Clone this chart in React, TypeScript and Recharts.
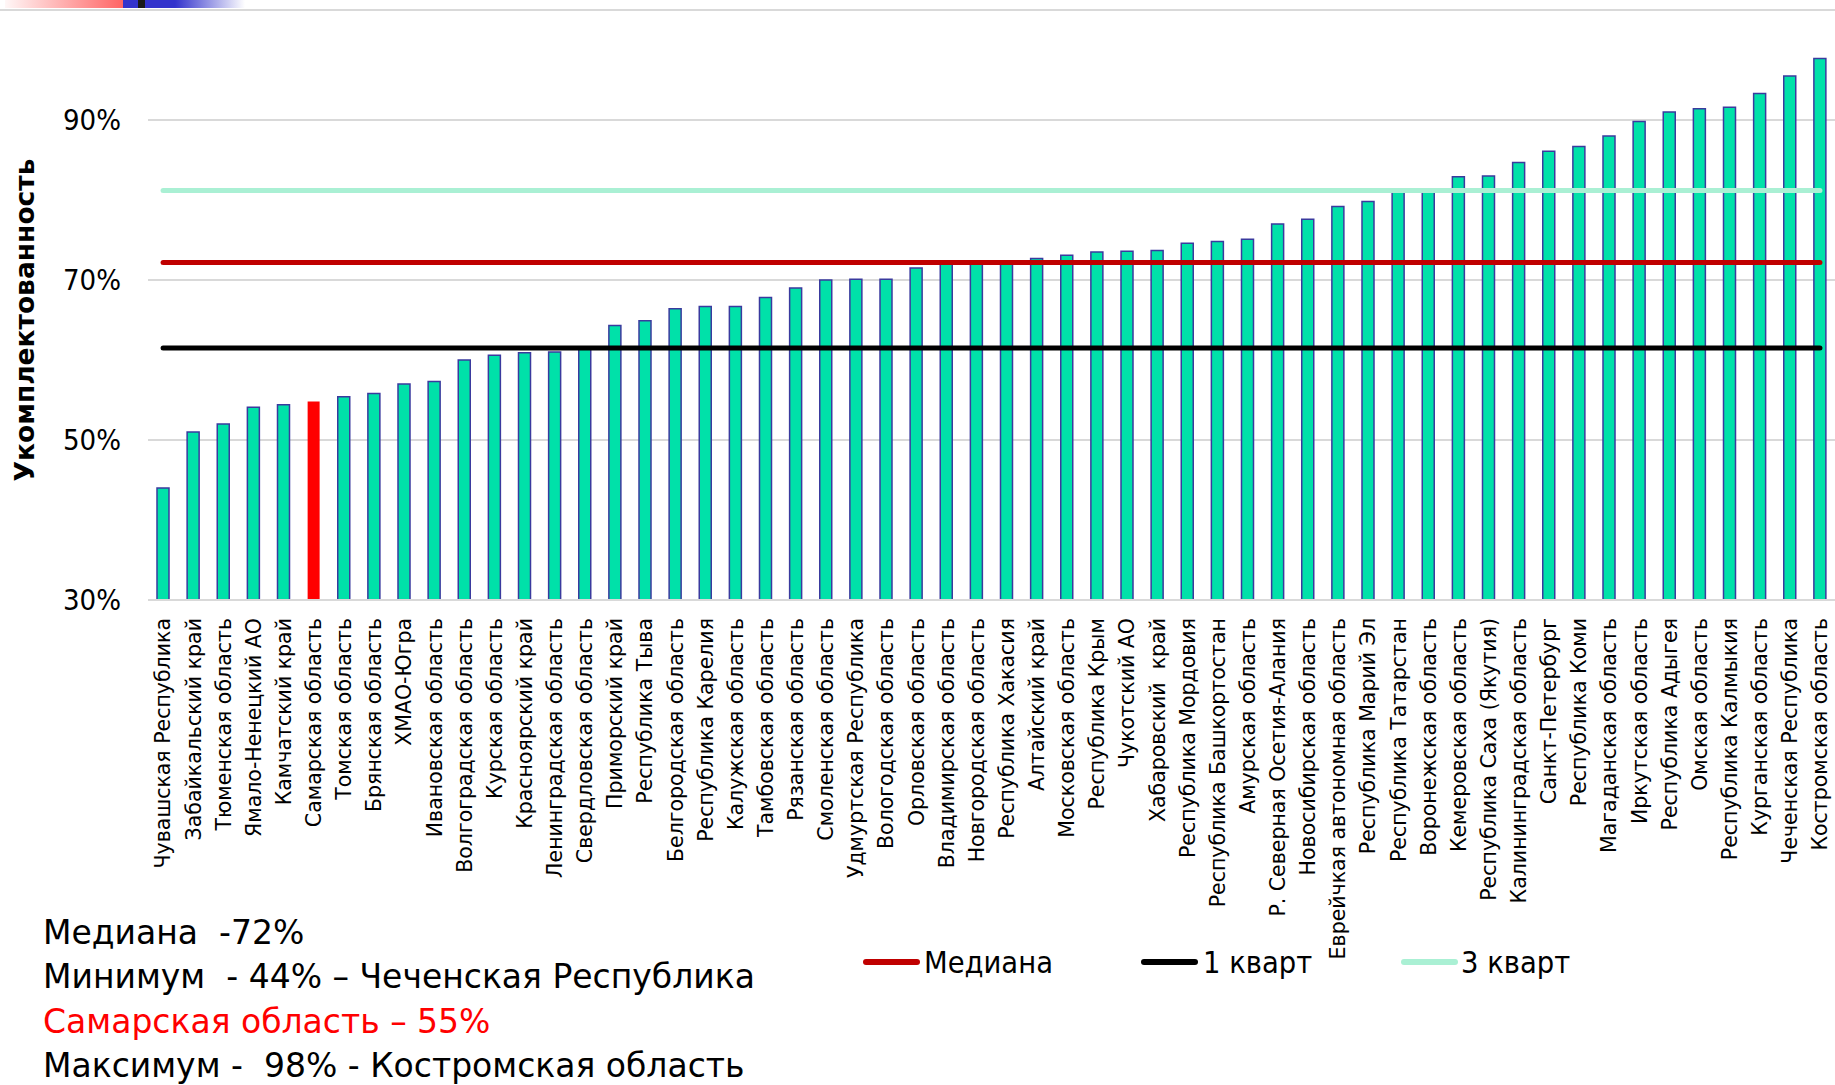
import React from 'react';
import { ComposedChart, Bar, Line, XAxis, YAxis, CartesianGrid, Cell, Label } from 'recharts';

const categories = [
  'Чувашская Республика', 'Забайкальский край', 'Тюменская область', 'Ямало-Ненецкий АО', 'Камчатский край',
  'Самарская область', 'Томская область', 'Брянская область', 'ХМАО-Югра', 'Ивановская область',
  'Волгоградская область', 'Курская область', 'Красноярский край', 'Ленинградская область', 'Свердловская область',
  'Приморский край', 'Республика Тыва', 'Белгородская область', 'Республика Карелия', 'Калужская область',
  'Тамбовская область', 'Рязанская область', 'Смоленская область', 'Удмуртская Республика', 'Вологодская область',
  'Орловская область', 'Владимирская область', 'Новгородская область', 'Республика Хакасия', 'Алтайский край',
  'Московская область', 'Республика Крым', 'Чукотский АО', 'Хабаровский  край', 'Республика Мордовия',
  'Республика Башкортостан', 'Амурская область', 'Р. Северная Осетия-Алания', 'Новосибирская область', 'Еврейчкая автономная область',
  'Республика Марий Эл', 'Республика Татарстан', 'Воронежская область', 'Кемеровская область', 'Республика Саха (Якутия)',
  'Калининградская область', 'Санкт-Петербург', 'Республика Коми', 'Магаданская область', 'Иркутская область',
  'Республика Адыгея', 'Омская область', 'Республика Калмыкия', 'Курганская область', 'Чеченская Республика',
  'Костромская область',
];

const values = [
  44.0, 51.0, 52.0, 54.1, 54.4, 54.8, 55.4, 55.8, 57.0, 57.3,
  60.0, 60.6, 60.9, 61.0, 61.4, 64.3, 64.9, 66.4, 66.7, 66.7,
  67.8, 69.0, 70.0, 70.1, 70.1, 71.5, 72.1, 72.1, 72.2, 72.7,
  73.1, 73.5, 73.6, 73.7, 74.6, 74.8, 75.1, 77.0, 77.6, 79.2,
  79.8, 81.1, 81.2, 82.9, 83.0, 84.7, 86.1, 86.7, 88.0, 89.8,
  91.0, 91.4, 91.6, 93.3, 95.5, 97.7,
];

const highlightCategory = 'Самарская область';

const MEDIAN = 72.2;
const QUART1 = 61.5;
const QUART3 = 81.2;

const yTicks = [30, 50, 70, 90];

const lineSeries = [
  { key: 'median', name: 'Медиана', color: '#c00000' },
  { key: 'q1', name: '1 кварт', color: '#000000' },
  { key: 'q3', name: '3 кварт', color: '#aaf0d4' },
];

const statLines = [
  { text: 'Медиана  -72%', color: '#000000' },
  { text: 'Минимум  - 44% – Чеченская Республика', color: '#000000' },
  { text: 'Самарская область – 55%', color: '#ff0000' },
  { text: 'Максимум -  98% - Костромская область', color: '#000000' },
];

const data = categories.map((name, i) => ({
  name,
  value: values[i],
  median: MEDIAN,
  q1: QUART1,
  q3: QUART3,
}));

const COND = "'DejaVu Sans Condensed', 'DejaVu Sans', sans-serif";
const SANS = "'DejaVu Sans', sans-serif";

const XTick = (props: any) => {
  const { x, y, payload } = props;
  return (
    <text
      x={x}
      y={y}
      transform={`rotate(-90, ${x}, ${y})`}
      textAnchor="end"
      dy="0.36em"
      fontSize={20.5}
      fill="#000"
      style={{ fontFamily: SANS, whiteSpace: 'pre' }}
    >
      {payload.value}
    </text>
  );
};

const YTick = (props: any) => {
  const { x, y, payload } = props;
  return (
    <text
      x={x}
      y={y}
      textAnchor="end"
      dy="0.36em"
      fontSize={29}
      fill="#000"
      style={{ fontFamily: COND, fontStretch: 'condensed' }}
    >
      {`${payload.value}%`}
    </text>
  );
};

const YTitle = (props: any) => {
  const vb = props.viewBox || { x: 0, y: 40, width: 148, height: 560 };
  const cx = 24;
  const cy = vb.y + vb.height / 2;
  return (
    <text
      x={cx}
      y={cy}
      transform={`rotate(-90, ${cx}, ${cy})`}
      textAnchor="middle"
      dy="0.36em"
      fontSize={26.5}
      fontWeight="bold"
      fill="#000"
      style={{ fontFamily: SANS }}
    >
      Укомплектованность
    </text>
  );
};

const legendPos = [
  { lineX: 866, textX: 924 },
  { lineX: 1144, textX: 1203 },
  { lineX: 1404, textX: 1461 },
];

export default function App() {
  return (
    <div style={{ position: 'absolute', left: 0, top: 0, width: 1835, height: 1085, background: '#fff', overflow: 'hidden' }}>
      {/* header decoration */}
      <div style={{ position: 'absolute', left: 5, top: 0, width: 118, height: 8, background: 'linear-gradient(to right, rgba(255,100,100,0.05), #ff6464)' }} />
      <div style={{ position: 'absolute', left: 123, top: 0, width: 15, height: 8, background: '#3333cc' }} />
      <div style={{ position: 'absolute', left: 138, top: 0, width: 7, height: 8, background: '#1a1a1a' }} />
      <div style={{ position: 'absolute', left: 145, top: 0, width: 100, height: 8, background: 'linear-gradient(to right, #3333cc 0%, #3333cc 30%, rgba(51,51,204,0) 100%)' }} />
      <div style={{ position: 'absolute', left: 0, top: 9, width: 1835, height: 2, background: '#d9d9d9' }} />

      <div style={{ position: 'absolute', left: 0, top: 0 }}>
        <ComposedChart width={1835} height={1085} data={data} margin={{ top: 40, right: 0, bottom: 0, left: 0 }}>
          <CartesianGrid vertical={false} horizontalValues={yTicks} stroke="#d9d9d9" strokeWidth={2} />
          <XAxis
            dataKey="name"
            height={485}
            interval={0}
            tickLine={false}
            tickSize={0}
            tickMargin={18}
            axisLine={{ stroke: '#d9d9d9', strokeWidth: 2 }}
            tick={<XTick />}
          />
          <YAxis
            domain={[30, 100]}
            ticks={yTicks}
            allowDataOverflow
            width={148}
            axisLine={false}
            tickLine={false}
            tickSize={0}
            tickMargin={27}
            tick={<YTick />}
          >
            <Label content={<YTitle />} />
          </YAxis>
          <Bar dataKey="value" barSize={12} fill="#00e1a9" stroke="#3a3a9e" strokeWidth={1.5} isAnimationActive={false} legendType="none">
            {data.map((d) => (
              <Cell
                key={d.name}
                fill={d.name === highlightCategory ? '#ff0000' : '#00e1a9'}
                stroke={d.name === highlightCategory ? 'none' : '#3a3a9e'}
              />
            ))}
          </Bar>
          {lineSeries.map((s) => (
            <Line
              key={s.key}
              type="linear"
              dataKey={s.key}
              name={s.name}
              stroke={s.color}
              strokeWidth={5}
              strokeLinecap="round"
              dot={false}
              activeDot={false}
              isAnimationActive={false}
            />
          ))}
        </ComposedChart>
      </div>

      <svg width={1835} height={1085} style={{ position: 'absolute', left: 0, top: 0, pointerEvents: 'none' }}>
        {statLines.map((l, i) => (
          <text
            key={i}
            x={43}
            y={944 + i * 44.3}
            fontSize={33}
            fill={l.color}
            style={{ fontFamily: SANS, whiteSpace: 'pre' }}
          >
            {l.text}
          </text>
        ))}
        {lineSeries.map((s, i) => (
          <g key={s.key}>
            <line x1={legendPos[i].lineX} x2={legendPos[i].lineX + 51} y1={962} y2={962} stroke={s.color} strokeWidth={6} strokeLinecap="round" />
            <text x={legendPos[i].textX} y={973} fontSize={30.5} fill="#000" style={{ fontFamily: COND, fontStretch: 'condensed' }}>
              {s.name}
            </text>
          </g>
        ))}
      </svg>
    </div>
  );
}
